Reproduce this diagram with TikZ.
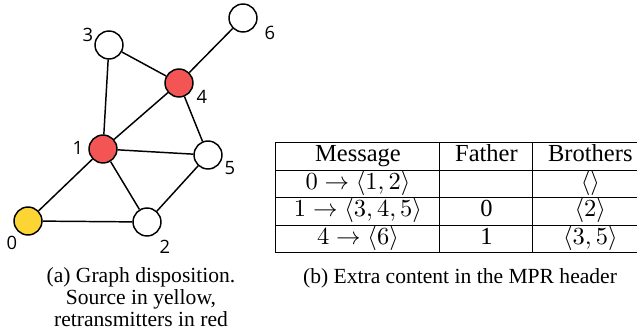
\documentclass[tikz,border=0pt]{standalone}
\usepackage{fontspec}
\usepackage{array}
\setmainfont{Liberation Serif}
\newfontfamily\tagfont{Open Sans}
\usetikzlibrary{positioning}

\definecolor{srcyellow}{RGB}{252,212,51}
\definecolor{fwdred}{RGB}{243,84,84}

\begin{document}
\begin{tikzpicture}[x=0.408pt, y=-0.408pt,
    vertex/.style={circle, draw, line width=0.6pt, minimum size=11.4pt, inner sep=0pt, fill=white},
    source/.style={vertex, fill=srcyellow},
    relay/.style={vertex, fill=fwdred},
    tag/.style={font=\tagfont\fontsize{7.5}{8}\selectfont, inner sep=0pt},
    link/.style={line width=0.6pt},
    caption/.style={align=center, inner sep=0pt, font=\fontsize{8.8}{9.1}\selectfont}]
   \useasboundingbox (0,0) rectangle (637,335);

   % the network
   \node[source] (n0) at (28,221) {};
   \node[relay]  (n1) at (103,149) {};
   \node[vertex] (n2) at (147,222) {};
   \node[vertex] (n3) at (109,45) {};
   \node[relay]  (n4) at (179,83) {};
   \node[vertex] (n5) at (208,155) {};
   \node[vertex] (n6) at (243,18) {};

   \node[tag] (t0) at (12,243) {0};
   \node[tag] (t1) at (78,148) {1};
   \node[tag] (t2) at (165,247) {2};
   \node[tag] (t3) at (88,35) {3};
   \node[tag] (t4) at (202,97) {4};
   \node[tag] (t5) at (230,168) {5};
   \node[tag] (t6) at (270,33) {6};

   \path[link]
    (n0) edge (n1)
         edge (n2)
    (n1) edge (n2)
         edge (n3)
         edge (n4)
         edge (n5)
    (n2) edge (n5)
    (n3) edge (n4)
    (n4) edge (n5)
         edge (n6);

   \node[caption] (capa) at (141,297) {(a) Graph disposition.\\ Source in yellow,\\ retransmitters in red};

   % header fields carried by each message
   \node[anchor=north west, inner sep=0pt, font=\fontsize{10}{12}\selectfont] (hdr) at (275,142) {%
     \renewcommand{\arraystretch}{0.9}%
     \begin{tabular}{|w{c}{54.5pt}|c|c|}
       \hline
       Message & Father & Brothers \\ \hline
       $0\rightarrow\langle1,2\rangle$ & & $\langle\rangle$ \\ \hline
       $1\rightarrow\langle3,4,5\rangle$ & 0 & $\langle2\rangle$ \\ \hline
       $4\rightarrow\langle6\rangle$ & 1 & $\langle3,5\rangle$ \\ \hline
     \end{tabular}};

   \node[caption] (capb) at (460,278) {(b) Extra content in the MPR header};
\end{tikzpicture}
\end{document}
